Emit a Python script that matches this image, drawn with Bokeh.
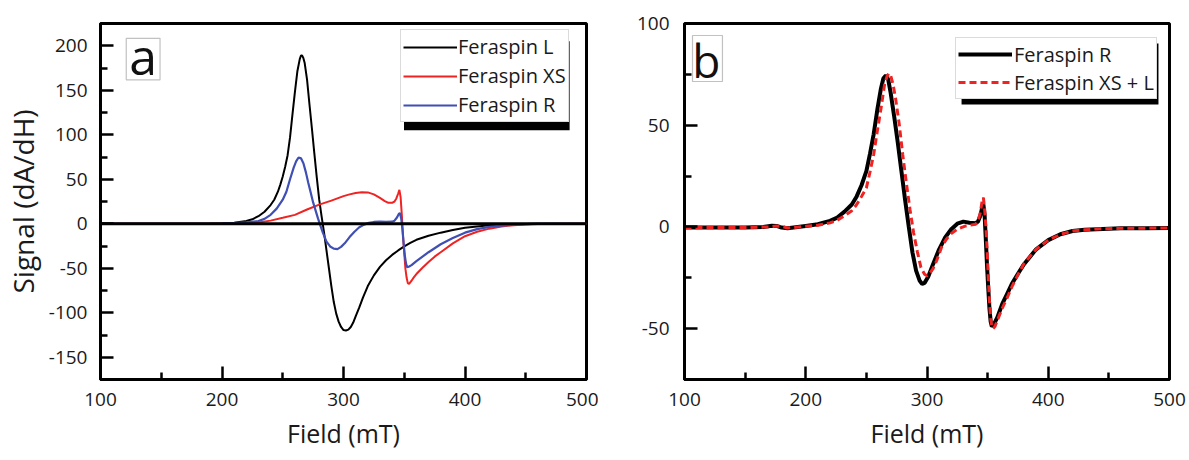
from bokeh.plotting import figure
from bokeh.layouts import row
from bokeh.models import (Range1d, FixedTicker, Legend, LegendItem, BoxAnnotation,
                          Label, Span)
from bokeh.embed import file_html
from bokeh.resources import INLINE

# ---------------- data: panel a ----------------
field_L = [100, 150, 190, 200, 210, 220, 225, 230, 235, 240, 243, 246, 248, 250, 252, 254,
           256, 258, 260, 262, 264, 265, 266, 267, 268, 270, 272, 274, 276, 278, 280, 282,
           284, 286, 288, 290, 292, 294, 296, 298, 300, 302, 304, 306, 308, 310, 313, 316,
           320, 325, 330, 335, 340, 345, 350, 355, 360, 370, 380, 390, 400, 410, 420, 430,
           440, 450, 460, 500]
signal_L = [0, 0, 0.3, 0.5, 1.2, 3, 5, 8.5, 13.5, 21, 27, 36, 44, 53, 64, 77,
            97, 123, 148, 171, 185, 189, 189, 186, 181, 162, 134, 107, 79, 52, 27, 8,
            -10, -30, -50, -70, -88, -101, -110, -116, -119.5, -120, -119, -116, -111, -104, -94, -83,
            -70, -58, -48.5, -41, -35, -30, -25.5, -21.5, -18, -13.5, -10, -7, -4.5, -3, -1.8, -1,
            -0.5, -0.2, 0, 0]

field_XS = [100, 150, 200, 210, 220, 230, 240, 250, 260, 270, 280, 290, 300, 305, 310, 315,
            320, 325, 330, 334, 337, 340, 342, 343.5, 345, 346, 347, 348, 349, 350, 351, 352,
            353, 354, 356, 358, 360, 365, 370, 375, 380, 390, 400, 410, 420, 430, 440, 450,
            460, 500]
signal_XS = [0, 0, 0, 0.3, 0.7, 1.5, 3.5, 6.7, 10, 16, 21.5, 26, 31, 33, 34.6, 35.5,
             35.2, 33, 29, 25.5, 23.5, 23.5, 25, 28.5, 34, 38, 30, 10, -14, -33, -51, -61,
             -67, -67.5, -64, -60, -56.5, -49.5, -43, -37, -32, -22, -14, -9, -5.5, -3, -1.6, -0.8,
             -0.3, 0]

field_R = [100, 150, 200, 210, 220, 230, 235, 240, 245, 250, 253, 256, 259, 261, 263, 265,
           267, 269, 271, 273, 275, 277, 279, 281, 283, 286, 289, 292, 295, 298, 301, 305,
           309, 313, 317, 321, 325, 330, 335, 340, 342, 344, 345.5, 346.5, 347.5, 348.5, 349.5, 350.5,
           351.5, 352.5, 354, 356, 360, 365, 370, 375, 380, 390, 400, 410, 420, 430, 440, 450,
           460, 500]
signal_R = [0, 0, 0.3, 0.8, 1.5, 3, 5.5, 10, 17, 27, 36, 50, 63, 70, 74.4, 73.5,
            68, 58, 46, 35, 24, 15, 6, -2, -10, -20, -25.5, -28, -28.5, -26, -22, -15,
            -9, -4, -1, 1, 2, 2.3, 2.2, 2.3, 3.5, 7, 11, 12, 6, -6, -22, -36,
            -45, -49, -48, -46.5, -42, -37, -32, -27.5, -23, -16, -10, -6, -3.5, -2, -1, -0.4,
            0, 0]

# ---------------- data: panel b ----------------
field_Rb = [100, 125, 150, 165, 172, 176, 180, 185, 190, 200, 210, 220, 226, 232, 238, 242,
            246, 250, 253, 256, 259, 262, 264, 266, 268, 270, 273, 276, 279, 282, 285, 288,
            291, 294, 296, 298, 301, 305, 310, 315, 320, 325, 330, 335, 340, 342, 344, 345.5,
            346.5, 347.5, 348.5, 349.5, 350.5, 351.5, 352.5, 353.5, 355, 358, 362, 366, 370, 375,
            380, 390, 400, 410, 420, 430, 440, 460, 480, 500]
signal_Rb = [-0.3, -0.3, -0.3, 0, 0.6, 0.5, -0.3, -0.7, -0.3, 0.5, 1.3, 3, 4.6, 7.5, 11, 15,
             20.5, 27.4, 36, 45.5, 57.5, 68, 73, 74.5, 72.5, 66, 54, 41, 27, 13, 0, -12.5,
             -21.5, -26.5, -28, -27.5, -24.5, -18.3, -11, -5.2, -1.1, 1.6, 2.6, 2.1, 1.8, 2.6, 5.5, 9.5,
             11, 6, -6, -19, -30, -40, -46.5, -49, -48, -44.5, -38, -33, -28, -23,
             -18.3, -11, -6.5, -3.6, -2, -1.4, -1.1, -0.7, -0.6, -0.5]

field_XSL = [100, 125, 150, 170, 176, 180, 185, 190, 200, 210, 220, 226, 232, 238, 242, 246,
             250, 253, 256, 259, 262, 265, 267, 268.5, 270, 272, 274, 277, 280, 283, 286, 289,
             292, 295, 298, 300, 302, 305, 308, 312, 316, 320, 325, 332, 340, 342, 344, 345.5,
             346.5, 347.5, 348.5, 349.5, 350.5, 351.5, 352.5, 353.5, 354.5, 356, 358, 362, 366, 370,
             375, 380, 390, 400, 410, 420, 430, 440, 460, 480, 500]
signal_XSL = [-0.3, -0.3, -0.3, 0, 0.4, 0.3, -0.5, -0.3, 0.3, 0.8, 2, 3.3, 5.5, 8, 11, 15,
              19.2, 27, 35.5, 47, 58, 70, 74, 75.5, 74.5, 70, 63.5, 51, 35.5, 21.5, 8.5, -3,
              -12, -20, -23.3, -24, -23, -20.5, -16.5, -10, -6, -3.3, -1.1, 0.5, 1.3, 2.8, 7, 13,
              14.4, 9, 1, -10, -24, -36, -45, -49, -50, -49, -46, -40, -35, -29.5,
              -23.5, -18, -11, -6.5, -3.7, -2, -1.4, -1, -0.7, -0.6, -0.5]

x_ticks = [100, 200, 300, 400, 500]
x_minor = [150, 250, 350, 450]
ya_ticks = [-150, -100, -50, 0, 50, 100, 150, 200]
ya_minor = [-175, -125, -75, -25, 25, 75, 125, 175, 225]
yb_ticks = [-50, 0, 50, 100]
yb_minor = [-75, -25, 25, 75]

FONT = "Open Sans"
RED = "#f02323"
BLUE = "#3f4fb3"
TXT = "#1a1a1a"


def style(p, yt, ym):
    p.xaxis.ticker = FixedTicker(ticks=x_ticks, minor_ticks=x_minor)
    p.yaxis.ticker = FixedTicker(ticks=yt, minor_ticks=ym)
    p.xaxis.major_label_overrides = {v: str(v) for v in x_ticks}
    p.yaxis.major_label_overrides = {v: str(v) for v in yt}
    p.grid.visible = False
    p.outline_line_color = "black"
    p.outline_line_width = 3
    p.outline_line_alpha = 1
    p.background_fill_color = "white"
    p.border_fill_color = "white"
    for ax in p.axis:
        ax.axis_line_width = 3
        ax.axis_line_color = "black"
        ax.major_tick_line_width = 2.5
        ax.minor_tick_line_width = 2.5
        ax.major_tick_in = 13
        ax.major_tick_out = 0
        ax.minor_tick_in = 7
        ax.minor_tick_out = 0
        ax.major_label_text_font = FONT
        ax.major_label_text_font_size = "19px"
        ax.major_label_text_color = TXT
        ax.axis_label_text_font = FONT
        ax.axis_label_text_font_style = "normal"
        ax.axis_label_text_color = TXT
    p.xaxis.major_label_standoff = 13
    p.xaxis.axis_label_text_font_size = "25px"
    p.xaxis.axis_label_standoff = 7
    p.yaxis.major_label_standoff = 13


# ---------------- panel a ----------------
pa = figure(width=598, height=460, output_backend="svg", toolbar_location=None,
            x_range=Range1d(100, 500), y_range=Range1d(-175, 225),
            min_border_left=96, min_border_right=12, min_border_top=19, min_border_bottom=81,
            x_axis_label="Field (mT)", y_axis_label="Signal (dA/dH)")
style(pa, ya_ticks, ya_minor)
pa.yaxis.axis_label_text_font_size = "28px"
pa.yaxis.axis_label_standoff = 4

pa.add_layout(Span(location=0, dimension="width", line_color="black", line_width=3))
rL = pa.line(field_L, signal_L, line_color="black", line_width=2)
rXS = pa.line(field_XS, signal_XS, line_color=RED, line_width=2)
rR = pa.line(field_R, signal_R, line_color=BLUE, line_width=2.2)

pa.add_layout(BoxAnnotation(left=349.8, right=486.1, top=205, bottom=105,
                            fill_color="black", fill_alpha=1, line_alpha=0))
leg_a = Legend(items=[LegendItem(label="Feraspin L", renderers=[rL]),
                      LegendItem(label="Feraspin XS", renderers=[rXS]),
                      LegendItem(label="Feraspin R", renderers=[rR])],
               location=(300, 257), margin=0, padding=2, spacing=0,
               glyph_width=54, glyph_height=20, label_standoff=1, label_height=29,
               label_width=108, label_text_font=FONT, label_text_font_size="20px",
               label_text_color=TXT,
               border_line_color="#b8b8b8", border_line_width=1,
               background_fill_color="white", background_fill_alpha=1)
pa.add_layout(leg_a)

pa.add_layout(BoxAnnotation(left=121.2, right=149, top=208.3, bottom=161.7,
                            fill_color="white", fill_alpha=1,
                            line_color="#333333", line_width=1.2))
pa.add_layout(Label(x=135.1, y=188.9, text="a", text_font=FONT, text_font_size="50px",
                    text_align="center", text_baseline="middle", text_color="#111111"))

# ---------------- panel b ----------------
pb = figure(width=591, height=460, output_backend="svg", toolbar_location=None,
            x_range=Range1d(100, 500), y_range=Range1d(-75, 100),
            min_border_left=86, min_border_right=20, min_border_top=23, min_border_bottom=81,
            x_axis_label="Field (mT)")
style(pb, yb_ticks, yb_minor)
pb.yaxis.major_label_standoff = 15

rRb = pb.line(field_Rb, signal_Rb, line_color="black", line_width=4)
rXSL = pb.line(field_XSL, signal_XSL, line_color=RED, line_width=3, line_dash="7 4")

pb.add_layout(BoxAnnotation(left=328.5, right=490.9, top=90.2, bottom=60.2,
                            fill_color="black", fill_alpha=1, line_alpha=0))
leg_b = Legend(items=[LegendItem(label="Feraspin R", renderers=[rRb]),
                      LegendItem(label="Feraspin XS + L", renderers=[rXSL])],
               location=(271, 280), margin=0, padding=2, spacing=0,
               glyph_width=54, glyph_height=20, label_standoff=2, label_height=28,
               label_width=136, label_text_font=FONT, label_text_font_size="20px",
               label_text_color=TXT,
               border_line_color="#b8b8b8", border_line_width=1,
               background_fill_color="white", background_fill_alpha=1)
pb.add_layout(leg_b)

pb.add_layout(BoxAnnotation(left=106.6, right=131.3, top=94.1, bottom=71.5,
                            fill_color="white", fill_alpha=1,
                            line_color="#333333", line_width=1.2))
pb.add_layout(Label(x=118.1, y=82.3, text="b", text_font=FONT, text_font_size="46px",
                    text_align="center", text_baseline="middle", text_color="#111111"))

layout = row(pa, pb, spacing=0)
open("out.html", "w").write(file_html(layout, INLINE))
